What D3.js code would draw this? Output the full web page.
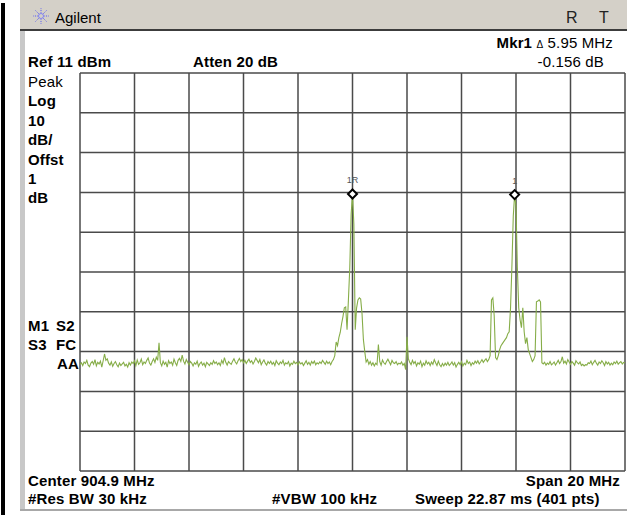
<!DOCTYPE html>
<html>
<head>
<meta charset="utf-8">
<script src="https://cdn.jsdelivr.net/npm/d3@7/dist/d3.min.js"></script>
<style>
  body { margin: 0; background: #fff; }
  text { font-family: "Liberation Sans", Arial, sans-serif; }
</style>
</head>
<body>
<div id="chart"></div>
<script>
// sweep settings
var centerFreq = 904.9;
var spanFreq = 20;
var refLevel = 11;
var dbPerDiv = 10;
var divisions = [0, 1, 2, 3, 4, 5, 6, 7, 8, 9, 10];

// trace, 401 pts (dBm)
var trace = [
  -62.3,-61.8,-62.5,-61.6,-62.0,-61.2,-62.4,-62.8,-61.9,-61.5,-62.2,-61.0,-62.6,-61.7,-62.1,-61.4,-62.9,-61.3,-59.6,-61.2,
  -60.8,-61.9,-62.4,-61.6,-62.7,-62.0,-61.5,-62.3,-62.8,-61.9,-62.5,-62.1,-61.7,-62.6,-62.2,-62.9,-61.8,-62.4,-61.6,-62.0,
  -61.3,-62.5,-61.1,-62.2,-61.8,-60.9,-62.3,-61.6,-62.0,-61.2,-60.6,-61.9,-62.4,-61.5,-60.8,-61.7,-60.4,-61.2,-56.8,-61.8,
  -62.6,-61.4,-62.2,-61.7,-62.9,-61.3,-62.0,-61.6,-62.4,-60.9,-61.8,-62.5,-61.2,-60.7,-61.5,-59.9,-61.4,-62.1,-61.0,-61.7,
  -62.3,-61.5,-61.9,-62.6,-61.8,-62.2,-61.4,-62.7,-62.0,-61.6,-62.4,-61.9,-62.8,-61.7,-62.1,-62.5,-61.8,-62.2,-61.3,-62.0,
  -61.6,-62.3,-61.8,-62.5,-61.2,-62.0,-60.5,-61.7,-62.4,-61.5,-61.9,-62.2,-61.4,-60.8,-61.6,-62.1,-61.3,-60.7,-61.5,-61.0,
  -61.8,-61.2,-62.0,-61.4,-60.9,-61.7,-61.3,-62.1,-61.5,-60.6,-61.2,-61.8,-61.0,-62.3,-61.6,-61.1,-61.9,-62.4,-61.5,-62.0,
  -61.4,-62.2,-61.7,-62.5,-61.3,-61.9,-62.3,-61.6,-62.0,-61.2,-62.4,-61.8,-62.1,-61.5,-62.6,-61.9,-62.2,-61.4,-62.0,-61.7,
  -62.3,-61.6,-62.1,-61.8,-62.5,-61.9,-61.3,-62.2,-61.7,-62.4,-61.5,-62.0,-61.4,-62.3,-61.8,-62.1,-61.6,-62.0,-61.2,-61.7,
  -62.2,-61.4,-62.0,-61.6,-62.3,-61.5,-61.0,-60.0,-56.6,-57.5,-55.5,-54.2,-52.0,-50.2,-48.0,-47.8,-53.5,-46.0,-38.0,-24.5,
  -19.4,-27.0,-53.5,-48.0,-46.0,-45.5,-45.8,-49.5,-56.0,-59.0,-61.6,-61.0,-62.2,-61.5,-62.4,-61.8,-62.6,-61.9,-62.3,-57.2,
  -61.5,-62.4,-61.1,-61.8,-62.2,-61.5,-60.9,-61.6,-62.3,-61.2,-61.8,-62.0,-61.5,-62.3,-61.9,-62.1,-61.6,-62.4,-62.0,-63.5,
  -55.3,-60.8,-61.7,-62.3,-61.2,-62.0,-61.5,-62.6,-61.8,-62.2,-61.4,-62.8,-61.9,-62.4,-61.3,-62.1,-61.7,-62.5,-61.6,-62.2,
  -61.0,-61.8,-62.5,-61.4,-62.3,-62.8,-62.0,-62.6,-61.9,-62.4,-61.7,-62.5,-62.1,-61.6,-62.4,-61.8,-62.9,-62.2,-61.7,-62.3,
  -61.5,-62.6,-61.9,-62.3,-61.2,-62.0,-61.6,-62.5,-61.8,-62.2,-61.4,-61.9,-61.3,-62.1,-61.6,-61.0,-61.7,-61.2,-60.8,-61.5,
  -61.0,-60.0,-46.0,-45.5,-50.0,-60.5,-61.0,-60.0,-58.5,-57.5,-57.0,-56.5,-56.0,-55.5,-54.5,-54.0,-48.0,-37.5,-25.0,-19.556,
  -22.5,-38.0,-48.0,-51.0,-53.0,-48.0,-54.0,-57.0,-55.5,-58.5,-59.5,-60.5,-61.5,-61.0,-60.0,-46.5,-46.3,-46.0,-46.5,-61.8,
  -62.1,-61.7,-62.4,-61.9,-62.2,-61.5,-62.3,-62.0,-61.6,-62.4,-61.8,-61.2,-62.0,-61.5,-60.3,-61.9,-61.4,-62.1,-61.0,-61.6,
  -62.2,-61.5,-61.9,-62.4,-61.3,-61.8,-62.1,-61.6,-62.5,-62.2,-62.6,-62.3,-62.4,-61.8,-62.0,-61.4,-62.3,-61.7,-61.2,-61.9,
  -62.4,-61.6,-62.0,-61.3,-61.8,-62.5,-61.5,-62.1,-61.7,-62.4,-61.9,-62.3,-61.6,-62.0,-61.4,-62.2,-61.8,-61.5,-62.1,-61.7,
  -61.9
];

// markers
var markerIdx = [200, 319];
var markerNames = ["1R", "1"];

// screen texts
var leftLabels = [["Peak", false], ["Log", true], ["10", true], ["dB/", true], ["Offst", true], ["1", true], ["dB", true]];

var SpectrumPlot = /** @class */ (function () {
    function SpectrumPlot(selector, width, height) {
        this.width = width;
        this.height = height;
        this.svg = d3.select(selector)
            .append('svg')
            .attr('width', width)
            .attr('height', height);
    }
    SpectrumPlot.prototype.frame = function () {
        var svg = this.svg, width = this.width;
        // outer window bits
        svg.append('rect').attr('x', 0).attr('y', 0).attr('width', width).attr('height', this.height).attr('fill', '#fff');
        svg.append('rect').attr('x', 1).attr('y', 3).attr('width', 4).attr('height', this.height - 3).attr('fill', '#000');
        svg.append('rect').attr('x', 20).attr('y', 0).attr('width', width - 20).attr('height', 30).attr('fill', '#d4d0c8');
        svg.append('rect').attr('x', 20).attr('y', 29).attr('width', width - 20).attr('height', 2).attr('fill', '#3c3c3c');
        svg.append('rect').attr('x', 20).attr('y', 31).attr('width', 5).attr('height', 480).attr('fill', '#c8c8c8');
        svg.append('rect').attr('x', 20).attr('y', 509).attr('width', width - 20).attr('height', 2).attr('fill', '#a8a8a8');

        // agilent spark
        var spark = svg.append('g').attr('transform', 'translate(41,16)');
        d3.range(8).forEach(function (k) {
            var a = k * Math.PI / 4;
            spark.append('line')
                .attr('x1', Math.cos(a) * 2.5).attr('y1', Math.sin(a) * 2.5)
                .attr('x2', Math.cos(a) * 8).attr('y2', Math.sin(a) * 8)
                .attr('stroke', '#5a5cf0').attr('stroke-width', 1)
                .attr('stroke-dasharray', '1.2,1.2');
        });
        spark.append('circle').attr('r', 2.5).attr('fill', 'none').attr('stroke', '#7a7cf8').attr('stroke-width', 0.8);

        svg.append('text').attr('x', 55).attr('y', 23).attr('font-size', 15).text('Agilent');
        svg.append('text').attr('x', 566).attr('y', 23).attr('font-size', 16).attr('fill', '#222').text('R');
        svg.append('text').attr('x', 599).attr('y', 23).attr('font-size', 16).attr('fill', '#222').text('T');
    };
    SpectrumPlot.prototype.plot = function (data) {
        var svg = this.svg;
        var left = 80, right = 625, top = 73, bottom = 471;
        var f0 = centerFreq - spanFreq / 2, f1 = centerFreq + spanFreq / 2;
        var step = spanFreq / (data.length - 1);
        var x = d3.scaleLinear().domain([f0, f1]).range([left, right]);
        var y = d3.scaleLinear().domain([refLevel - dbPerDiv * 10, refLevel]).range([bottom, top]);

        var grid = svg.append('g');
        grid.selectAll('line.v').data(divisions).enter().append('line')
            .attr('x1', function (d) { return x(f0 + d * spanFreq / 10); })
            .attr('x2', function (d) { return x(f0 + d * spanFreq / 10); })
            .attr('y1', top).attr('y2', bottom)
            .attr('stroke', '#4a4a4a').attr('stroke-width', 1.5);
        grid.selectAll('line.h').data(divisions).enter().append('line')
            .attr('y1', function (d) { return y(refLevel - d * dbPerDiv); })
            .attr('y2', function (d) { return y(refLevel - d * dbPerDiv); })
            .attr('x1', left).attr('x2', right)
            .attr('stroke', '#4a4a4a').attr('stroke-width', 1.5);

        var line = d3.line()
            .x(function (d, i) { return x(f0 + i * step); })
            .y(function (d) { return y(d); });
        svg.append('path').datum(data)
            .attr('d', line)
            .attr('fill', 'none')
            .attr('stroke', '#86ad48')
            .attr('stroke-width', 1.1);

        var mk = svg.selectAll('g.mk').data(markerIdx).enter().append('g')
            .attr('transform', function (d) { return 'translate(' + x(f0 + d * step) + ',' + y(data[d]) + ')'; });
        mk.append('path')
            .attr('d', 'M0,-4.5L4.5,0L0,4.5L-4.5,0Z')
            .attr('fill', '#fff').attr('stroke', '#000').attr('stroke-width', 2);
        mk.append('text')
            .attr('y', -11).attr('text-anchor', 'middle')
            .attr('font-size', 9).attr('fill', '#555')
            .text(function (d, i) { return markerNames[i]; });
    };
    SpectrumPlot.prototype.labels = function () {
        var svg = this.svg;
        var t = function (x, yy, s, bold, anchor) {
            return svg.append('text').attr('x', x).attr('y', yy)
                .attr('font-size', 15).attr('letter-spacing', 0.15)
                .attr('font-weight', bold ? 'bold' : 'normal')
                .attr('text-anchor', anchor || 'start').attr('fill', '#000').text(s);
        };
        var mkr = t(613, 48, '', true, 'end');
        mkr.append('tspan').text('Mkr1 ');
        mkr.append('tspan').attr('font-weight', 'normal').attr('font-size', 10).text('\u0394');
        mkr.append('tspan').attr('font-weight', 'normal').text(' 5.95 MHz');
        t(28, 67, 'Ref 11 dBm', true);
        t(193, 67, 'Atten 20 dB', true);
        t(604, 67, '-0.156 dB', false, 'end');
        leftLabels.forEach(function (d, i) { t(28, 87 + i * 19.4, d[0], d[1]); });
        t(28, 331, 'M1', true); t(56, 331, 'S2', true);
        t(28, 350, 'S3', true); t(56, 350, 'FC', true);
        t(79, 369, 'AA', true, 'end');
        t(28, 486, 'Center 904.9 MHz', true);
        t(620, 486, 'Span 20 MHz', true, 'end');
        t(28, 504, '#Res BW 30 kHz', true);
        t(272, 504, '#VBW 100 kHz', true);
        t(415, 504, 'Sweep 22.87 ms (401 pts)', true);
    };
    return SpectrumPlot;
}());

var chart = new SpectrumPlot('#chart', 627, 515);
chart.frame();
chart.plot(trace);
chart.labels();
</script>
</body>
</html>
